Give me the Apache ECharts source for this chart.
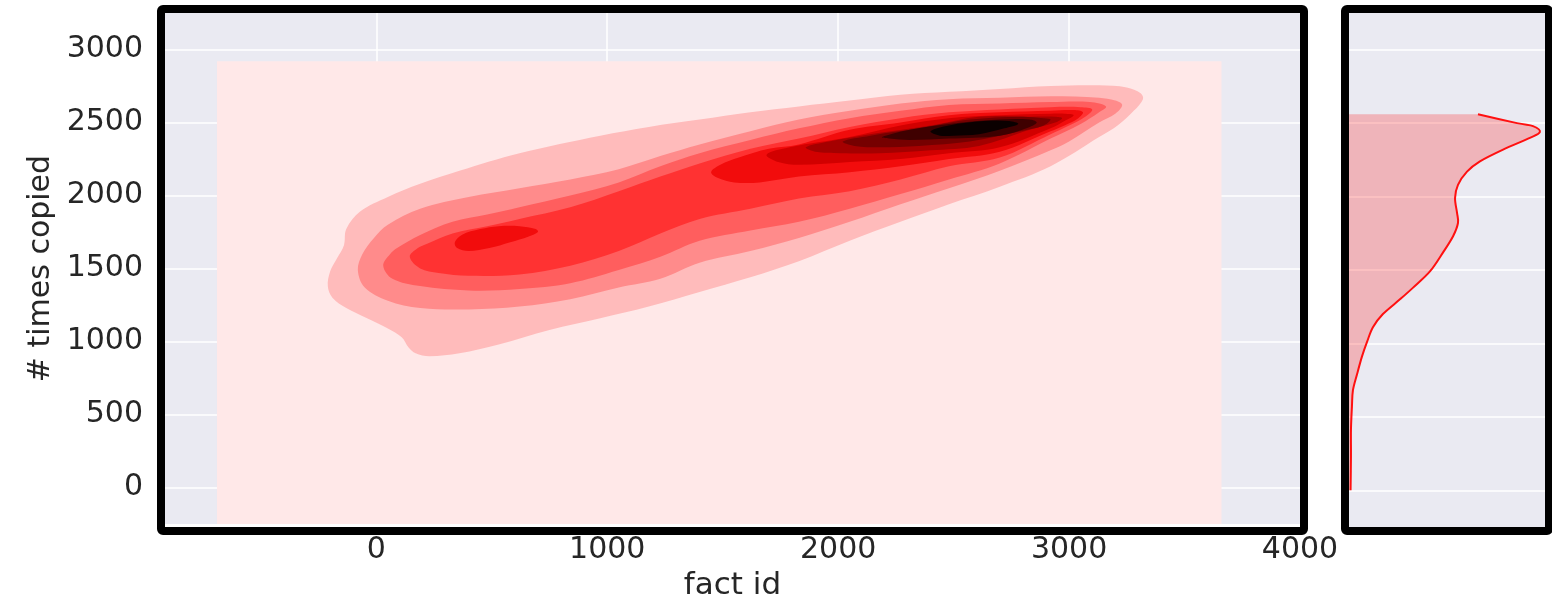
<!DOCTYPE html>
<html>
<head>
<meta charset="utf-8">
<title>fact id vs # times copied</title>
<script src="https://cdn.jsdelivr.net/npm/echarts@6/dist/echarts.min.js"></script>
<style>
  html, body { margin: 0; padding: 0; background: #ffffff; }
  #chart { width: 1552px; height: 606px; }
</style>
</head>
<body>
<div id="chart"></div>
<script>
// ---- tick labels ----
const factIdTicks = [0, 1000, 2000, 3000, 4000];
const timesCopiedTicks = [0, 500, 1000, 1500, 2000, 2500, 3000];

// ---- filled density contours, vertices as [fact id, # times copied], outermost first ----
const kdeGridExtent = [[-690, -700], [-690, 2920], [3660, 2920], [3660, -700]];

const contour1 = [[-210,1380],[-200,1480],[-170,1570],[-140,1660],[-130,1770],[-70,1890],[50,1990],[190,2080],[360,2170],[620,2290],[970,2410],[1180,2470],[1400,2520],[1620,2570],[1830,2610],[2050,2650],[2270,2690],[2480,2710],[2700,2730],[2920,2750],[3130,2755],[3250,2740],[3310,2700],[3320,2660],[3280,2580],[3210,2480],[3130,2400],[2920,2200],[2700,2060],[2480,1940],[2270,1820],[2050,1690],[1830,1550],[1620,1440],[1400,1340],[1180,1240],[970,1160],[750,1080],[530,980],[360,920],[230,900],[170,920],[140,960],[110,1030],[50,1090],[-40,1160],[-130,1230],[-190,1300]];

const contour2 = [[-80,1490],[-60,1600],[-10,1710],[50,1800],[190,1910],[400,1990],[620,2050],[840,2110],[1050,2180],[1230,2270],[1400,2350],[1620,2440],[1830,2520],[2050,2580],[2270,2630],[2480,2660],[2700,2670],[2920,2680],[3130,2670],[3200,2650],[3230,2620],[3200,2560],[3130,2500],[3000,2370],[2920,2310],[2700,2170],[2480,2050],[2270,1940],[2050,1820],[1830,1710],[1620,1620],[1400,1540],[1230,1430],[1050,1370],[840,1290],[620,1240],[400,1220],[190,1230],[50,1280],[-50,1370]];

const contour3 = [[30,1520],[60,1600],[90,1640],[190,1730],[330,1820],[480,1870],[620,1920],[840,2000],[1050,2090],[1230,2200],[1400,2290],[1620,2380],[1830,2460],[2050,2530],[2270,2580],[2480,2620],[2700,2630],[2920,2640],[3090,2640],[3160,2610],[3130,2570],[3050,2490],[2920,2390],[2700,2220],[2480,2110],[2270,2010],[2050,1910],[1830,1820],[1620,1760],[1400,1690],[1230,1580],[1050,1490],[840,1400],[620,1360],[400,1350],[190,1380],[70,1430]];

const contour4 = [[145,1580],[180,1640],[220,1670],[330,1740],[480,1790],[620,1840],[840,1920],[1050,2030],[1230,2130],[1400,2220],[1620,2320],[1830,2390],[2050,2470],[2270,2530],[2480,2570],[2700,2590],[2920,2605],[3050,2605],[3100,2590],[3070,2540],[3000,2480],[2920,2420],[2700,2260],[2480,2200],[2270,2110],[2050,2030],[1830,1980],[1620,1910],[1400,1840],[1230,1740],[1050,1620],[840,1520],[620,1460],[400,1450],[270,1470],[190,1500]];

const contour5a = [[340,1680],[370,1730],[450,1770],[530,1790],[620,1790],[690,1770],[700,1750],[660,1720],[580,1680],[490,1640],[400,1620],[350,1640]];

const contour5b = [[1450,2160],[1490,2210],[1570,2260],[1700,2320],[1830,2350],[2050,2450],[2270,2500],[2480,2550],[2700,2570],[2920,2580],[3020,2585],[3060,2570],[3040,2530],[2980,2480],[2920,2440],[2700,2300],[2480,2250],[2270,2200],[2050,2160],[1830,2130],[1660,2090],[1550,2090],[1480,2120]];

const contour6 = [[1690,2280],[1790,2330],[2050,2400],[2270,2480],[2480,2530],[2700,2550],[2920,2560],[2980,2560],[3020,2550],[2980,2510],[2920,2460],[2700,2330],[2480,2290],[2270,2250],[2050,2230],[1830,2210],[1740,2230]];

const contour7 = [[1860,2330],[1960,2370],[2180,2430],[2400,2480],[2610,2540],[2830,2540],[2940,2540],[2970,2530],[2940,2500],[2830,2450],[2610,2340],[2400,2310],[2180,2290],[2010,2290],[1900,2300]];

const contour8 = [[2020,2370],[2140,2410],[2350,2460],[2570,2520],[2790,2540],[2890,2530],[2920,2520],[2890,2480],[2790,2440],[2570,2370],[2350,2340],[2180,2330],[2070,2340]];

const contour9 = [[2190,2400],[2310,2450],[2480,2490],[2700,2520],[2830,2520],[2860,2500],[2830,2470],[2700,2410],[2480,2390],[2310,2380],[2220,2390]];

const contour10 = [[2400,2440],[2480,2480],[2630,2510],[2740,2510],[2780,2490],[2720,2460],[2610,2420],[2500,2410],[2440,2410]];

// ---- marginal density of # times copied ----
const marginTimesCopied = [2560, 2500, 2480, 2440, 2400, 2320, 2240, 2170, 2080, 1990, 1890, 1820, 1730, 1620, 1490, 1380, 1300, 1200, 1110, 1010, 910, 790, 680, 570, 410, 230, 0];
const marginDensity = [0.658, 0.857, 0.939, 0.974, 0.923, 0.786, 0.668, 0.602, 0.556, 0.541, 0.551, 0.556, 0.531, 0.480, 0.413, 0.327, 0.260, 0.173, 0.122, 0.092, 0.066, 0.041, 0.020, 0.015, 0.010, 0.010, 0.008];

// ---- drawing ----
const contourShapes = [kdeGridExtent, contour1, contour2, contour3, contour4, contour5a, contour5b, contour6, contour7, contour8, contour9, contour10];
const contourShade = [0, 1, 2, 3, 4, 5, 5, 6, 7, 8, 9, 10];
const shadeColors = ['#FFE8E8', '#FFBBBB', '#FF8B8B', '#FF5E5E', '#FF3232', '#F20C0C', '#D20000', '#A50000', '#760000', '#3F0000', '#0B0000'];

const MAIN = { left: 165, top: 13, width: 1135, height: 514 };
const SIDE = { left: 1349, top: 13, width: 196, height: 514 };
const FRAME = 8;
const FONT = 'DejaVu Sans';
const INK = '#262626';
const PANEL = '#EAEAF2';

function smoothPath(pts) {
  let d = 'M' + pts[0][0] + ',' + pts[0][1];
  for (let i = 0; i < pts.length - 1; i++) {
    const p0 = pts[i - 1] || pts[i];
    const p1 = pts[i];
    const p2 = pts[i + 1];
    const p3 = pts[i + 2] || p2;
    const c1 = [p1[0] + (p2[0] - p0[0]) / 6, p1[1] + (p2[1] - p0[1]) / 6];
    const c2 = [p2[0] - (p3[0] - p1[0]) / 6, p2[1] - (p3[1] - p1[1]) / 6];
    d += 'C' + c1[0] + ',' + c1[1] + ' ' + c2[0] + ',' + c2[1] + ' ' + p2[0] + ',' + p2[1];
  }
  return d;
}

function frameRect(box) {
  return {
    type: 'rect',
    silent: true,
    z: 100,
    shape: { x: box.left - FRAME / 2, y: box.top - FRAME / 2, width: box.width + FRAME, height: box.height + FRAME, r: 2 },
    style: { fill: 'none', stroke: '#000000', lineWidth: FRAME, lineJoin: 'round' }
  };
}

const chart = echarts.init(document.getElementById('chart'));

chart.setOption({
  animation: false,
  backgroundColor: '#ffffff',
  textStyle: { fontFamily: FONT },
  grid: [
    { left: MAIN.left, top: MAIN.top, width: MAIN.width, height: MAIN.height, show: true, backgroundColor: PANEL, borderWidth: 0 },
    { left: SIDE.left, top: SIDE.top, width: SIDE.width, height: SIDE.height, show: true, backgroundColor: PANEL, borderWidth: 0 }
  ],
  xAxis: [
    {
      gridIndex: 0, type: 'value', min: -915, max: 4000, minInterval: 1000, maxInterval: 1000,
      name: 'fact id', nameLocation: 'middle', nameGap: 43,
      nameTextStyle: { fontSize: 31, color: INK, fontFamily: FONT },
      axisLine: { show: false }, axisTick: { show: false },
      axisLabel: {
        fontSize: 30, color: INK, margin: 11, showMaxLabel: true, fontFamily: FONT,
        formatter: v => (factIdTicks.includes(v) ? String(v) : '')
      },
      splitLine: { show: true, showMinLine: false, showMaxLine: false, lineStyle: { color: '#ffffff', width: 1.5 } }
    },
    { gridIndex: 1, type: 'value', min: 0, max: 1, show: false }
  ],
  yAxis: [
    {
      gridIndex: 0, type: 'value', min: -250, max: 3250, minInterval: 500, maxInterval: 500,
      name: '# times copied', nameLocation: 'middle', nameGap: 108, nameRotate: 90,
      nameTextStyle: { fontSize: 30, color: INK, fontFamily: FONT },
      axisLine: { show: false }, axisTick: { show: false },
      axisLabel: {
        fontSize: 30, color: INK, margin: 22, fontFamily: FONT,
        formatter: v => (timesCopiedTicks.includes(v) ? String(v) : '')
      },
      splitLine: { show: true, showMinLine: false, showMaxLine: false, lineStyle: { color: '#ffffff', width: 1.5 } }
    },
    {
      gridIndex: 1, type: 'value', min: -250, max: 3250, minInterval: 500, maxInterval: 500,
      axisLine: { show: false }, axisTick: { show: false }, axisLabel: { show: false },
      splitLine: { show: true, showMinLine: false, showMaxLine: false, lineStyle: { color: '#ffffff', width: 1.5 } }
    }
  ],
  series: [
    {
      name: 'density',
      type: 'custom',
      xAxisIndex: 0, yAxisIndex: 0,
      clip: true,
      data: contourShapes.map((s, i) => [s[0][0], s[0][1], i]),
      encode: { x: 0, y: 1 },
      renderItem: (params, api) => {
        const idx = api.value(2);
        const pts = contourShapes[idx].map(p => api.coord(p));
        return {
          type: 'polygon',
          shape: { points: pts, smooth: idx === 0 ? 0 : 0.35 },
          style: { fill: shadeColors[contourShade[idx]] }
        };
      }
    },
    {
      name: 'marginal',
      type: 'custom',
      xAxisIndex: 1, yAxisIndex: 1,
      clip: true,
      data: [[0, 0]],
      encode: { x: 0, y: 1 },
      renderItem: (params, api) => {
        const pts = marginDensity.map((d, i) => api.coord([d, marginTimesCopied[i]]));
        const curve = smoothPath(pts);
        const bottom = api.coord([0, marginTimesCopied[marginTimesCopied.length - 1]]);
        const top = api.coord([0, marginTimesCopied[0]]);
        const area = curve + 'L' + bottom[0] + ',' + bottom[1] + 'L' + top[0] + ',' + top[1] + 'Z';
        return {
          type: 'group',
          children: [
            { type: 'path', shape: { pathData: area }, style: { fill: 'rgba(255,0,0,0.23)', stroke: null } },
            { type: 'path', shape: { pathData: curve }, style: { fill: 'none', stroke: '#ff1010', lineWidth: 2 } }
          ]
        };
      }
    }
  ],
  graphic: [frameRect(MAIN), frameRect(SIDE)]
});
</script>
</body>
</html>
